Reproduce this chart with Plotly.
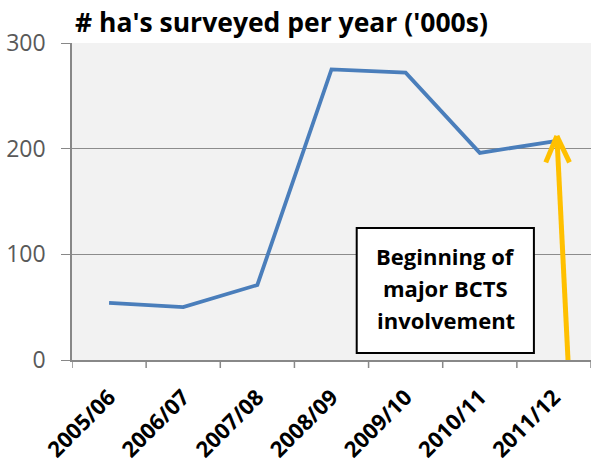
import plotly.graph_objects as go

categories = ["2005/06", "2006/07", "2007/08", "2008/09", "2009/10", "2010/11", "2011/12"]
hectares_k = [54, 50, 71, 275, 272, 196, 207]
y_ticks = [0, 100, 200, 300]
title_text = "# ha's surveyed per year ('000s)"
note_lines = ["Beginning of", "major BCTS", "involvement"]

FONT = "Open Sans"
fig = go.Figure()
fig.add_trace(go.Scatter(
    x=list(range(len(categories))), y=hectares_k, mode="lines",
    line=dict(color="#4A7EBB", width=3.8), hoverinfo="skip", showlegend=False,
))

# annotation box
fig.add_shape(type="rect", xref="x", yref="y", x0=3.34, x1=5.73, y0=6.6, y1=124.9,
              line=dict(color="black", width=2), fillcolor="white", layer="above")
for i, (line, yv) in enumerate(zip(note_lines, [98, 68, 38])):
    fig.add_annotation(x=4.54, y=yv, xref="x", yref="y", text="<b>%s</b>" % line,
                       showarrow=False, font=dict(family=FONT, size=22, color="black"))

# yellow arrow
arrow_col = "#FFC000"
fig.add_shape(type="line", xref="x", yref="y", x0=6.19, y0=0, x1=6.04, y1=212,
              line=dict(color=arrow_col, width=5), layer="above")
fig.add_shape(type="line", xref="x", yref="y", x0=5.89, y0=187, x1=6.04, y1=212,
              line=dict(color=arrow_col, width=5), layer="above")
fig.add_shape(type="line", xref="x", yref="y", x0=6.21, y0=187, x1=6.04, y1=212,
              line=dict(color=arrow_col, width=5), layer="above")

fig.update_layout(
    width=591, height=464,
    margin=dict(l=72, r=0, t=43, b=104),
    paper_bgcolor="white", plot_bgcolor="#F2F2F2",
    title=dict(text="<b>%s</b>" % title_text, x=75/591, xanchor="left",
               y=1 - 13/464, yanchor="top", pad=dict(l=0, t=0),
               font=dict(family=FONT, size=26.5, color="black")),
    xaxis=dict(
        tickmode="array", tickvals=list(range(len(categories))), ticktext=["<b>%s</b>" % c for c in categories],
        range=[-0.5, 6.5], showgrid=False, zeroline=False, automargin=False,
        showline=True, linecolor="#888888", linewidth=1.5,
        ticks="", tickangle=-45, ticklabelstandoff=14,
        tickfont=dict(family=FONT, size=22, color="black"),
    ),
    yaxis=dict(
        range=[0, 300], tickvals=y_ticks, showgrid=True, gridcolor="#8C8C8C", gridwidth=1,
        zeroline=False, showline=True, linecolor="#888888", linewidth=1.5, automargin=False,
        ticks="outside", ticklen=9, tickcolor="#888888", ticklabelstandoff=11,
        tickfont=dict(family=FONT, size=23, color="#595959"),
    ),
)
# category boundary tick marks
for b in range(len(categories) + 1):
    fig.add_shape(type="line", xref="x", yref="paper", x0=b - 0.5, x1=b - 0.5,
                  y0=0, y1=-8/317, line=dict(color="#888888", width=1.5))

fig.write_html("out.html", config={"displayModeBar": False},
               post_script="document.body.style.margin='0';document.body.style.padding='0';")
